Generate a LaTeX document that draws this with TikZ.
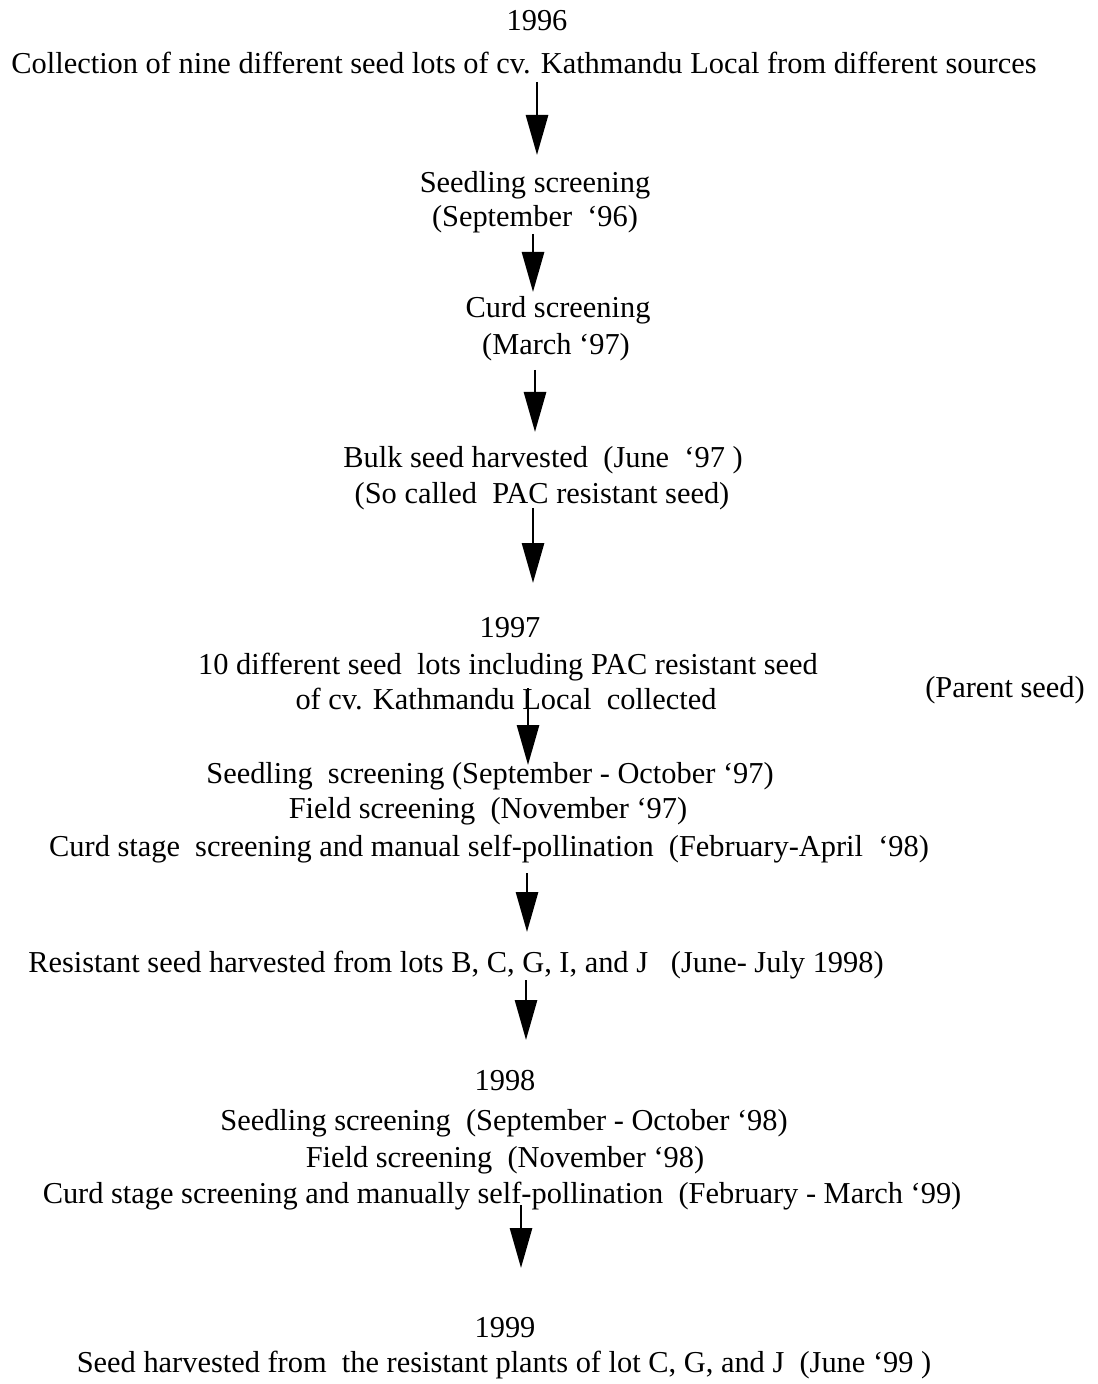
\documentclass[tikz,border=0pt]{standalone}
\usepackage{fontspec}
\setmainfont{Liberation Serif}
\usetikzlibrary{arrows.meta}
\begin{document}
\begin{tikzpicture}[x=0.5pt, y=-0.5pt,
  every node/.style={font=\fontsize{15.2}{18}\selectfont, inner sep=0pt, anchor=base},
  flow/.style={-{Triangle[width=11pt, length=20pt]}, line width=1.4pt}]
\useasboundingbox (0,0) rectangle (1097,1384);
% 1996
\node (y96) at (537,31) {1996};
\node (coll) at (524,74) {Collection of nine different seed lots of cv. Kathmandu Local from different sources};
\coordinate (a1s) at (537,82); \coordinate (a1e) at (537,155);
\draw[flow] (a1s) -- (a1e);
\node (ss96) at (535,193) {Seedling screening};
\node (ss96d) at (535,227) {(September\ \ ‘96)};
\coordinate (a2s) at (533,234); \coordinate (a2e) at (533,292);
\draw[flow] (a2s) -- (a2e);
\node (cs97) at (558,318) {Curd screening};
\node (cs97d) at (556,355) {(March ‘97)};
\coordinate (a3s) at (535,370); \coordinate (a3e) at (535,432);
\draw[flow] (a3s) -- (a3e);
\node (bulk) at (543,468) {Bulk seed harvested\ \ (June\ \ ‘97 )};
\node (bulkd) at (542,503) {(So called\ \ PAC resistant seed)};
\coordinate (a4s) at (533,508); \coordinate (a4e) at (533,583);
\draw[flow] (a4s) -- (a4e);
% 1997
\node (y97) at (510,637) {1997};
\node (lots) at (508,674) {10 different seed\ \ lots including PAC resistant seed};
\node (lotsb) at (506,709) {of cv. Kathmandu Local\ \ collected};
\node (par) at (1005,697) {(Parent seed)};
\coordinate (a5s) at (528,688); \coordinate (a5e) at (528,765);
\draw[flow] (a5s) -- (a5e);
\node (ss97) at (490,783) {Seedling\ \ screening (September - October ‘97)};
\node (fs97) at (488,818) {Field screening\ \ (November ‘97)};
\node (cur98) at (489,856) {Curd stage\ \ screening and manual self-pollination\ \ (February-April\ \ ‘98)};
\coordinate (a6s) at (527,873); \coordinate (a6e) at (527,932);
\draw[flow] (a6s) -- (a6e);
\node (res98) at (456,972) {Resistant seed harvested from lots B, C, G, I, and J\ \ \ (June- July 1998)};
\coordinate (a7s) at (526,980); \coordinate (a7e) at (526,1040);
\draw[flow] (a7s) -- (a7e);
% 1998
\node (y98) at (505,1090) {1998};
\node (ss98) at (504,1130) {Seedling screening\ \ (September - October ‘98)};
\node (fs98) at (505,1167) {Field screening\ \ (November ‘98)};
\node (cur99) at (502,1203) {Curd stage screening and manually self-pollination\ \ (February - March ‘99)};
\coordinate (a8s) at (521,1205); \coordinate (a8e) at (521,1268);
\draw[flow] (a8s) -- (a8e);
% 1999
\node (y99) at (505,1337) {1999};
\node (harv) at (504,1372) {Seed harvested from\ \ the resistant plants of lot C, G, and J\ \ (June ‘99 )};
\end{tikzpicture}
\end{document}
